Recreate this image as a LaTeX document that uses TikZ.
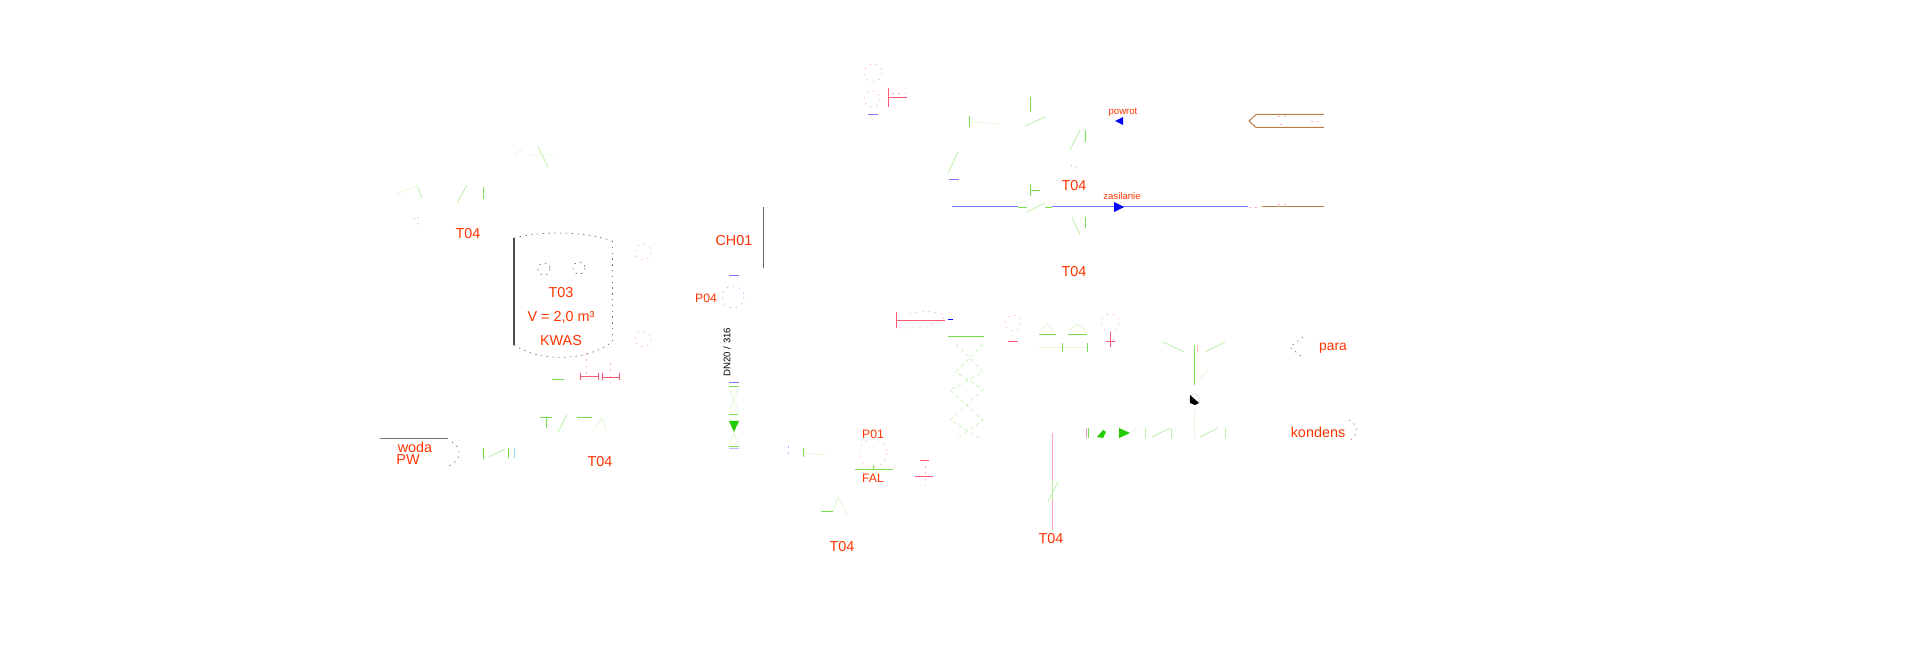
\documentclass[tikz,border=0pt]{standalone}
\usepackage{fontspec}
\setmainfont{Liberation Sans}
\definecolor{labelred}{HTML}{FF3300}
\definecolor{pipegreen}{HTML}{78E050}
\definecolor{paleblue}{HTML}{7878FF}
\definecolor{palered}{HTML}{FF5A78}
\definecolor{pipebrown}{HTML}{B88048}
\definecolor{solidgreen}{HTML}{22CC00}

\begin{document}
\begin{tikzpicture}[x=0.5pt, y=-0.5pt,
    label_text/.style={font=\fontsize{7.2}{8}\selectfont, text=labelred, inner sep=0pt, yshift=-0.7pt},
    small_text/.style={font=\fontsize{6.1}{7}\selectfont, text=labelred, inner sep=0pt, yshift=-0.5pt},
    tiny_text/.style={font=\fontsize{4.8}{6}\selectfont, text=labelred, inner sep=0pt},
    green_pipe/.style={pipegreen, line width=0.4pt},
    soft_pipe/.style={pipegreen!50, line width=0.4pt},
    faint_pipe/.style={pipegreen!22, line width=0.4pt},
    blue_pipe/.style={paleblue, line width=0.5pt},
    red_pipe/.style={palered, line width=0.45pt},
    brown_pipe/.style={pipebrown, line width=0.5pt},
    red_dots/.style={palered!50, line width=0.3pt, dash pattern=on 0.8pt off 2.4pt},
    blue_dots/.style={paleblue!60, line width=0.3pt, dash pattern=on 0.8pt off 2.4pt},
    black_dots/.style={black!55, line width=0.35pt, dash pattern=on 0.7pt off 2.2pt},
    zigzag_pipe/.style={pipegreen!35, line width=0.4pt, dash pattern=on 2pt off 1.5pt}
]
\useasboundingbox (0,0) rectangle (1916,646);

% Tank
\draw[black!70, line width=0.6pt] (514,238) -- (514,345);
\draw[black_dots] (514,238) .. controls (540,231) and (585,231) .. (612,241);
\draw[black_dots] (612,241) -- (612,342);
\draw[black_dots] (514,345) .. controls (540,362) and (585,362) .. (612,342);
\draw[black_dots] (544,269) circle (6);
\draw[black_dots] (579,268) circle (6);
\node[label_text] (tank) at (561,291) {T03};
\node[label_text] (volume) at (561,316) {V = 2,0 m³};
\node[label_text] (medium) at (561,339) {KWAS};

% Tank nozzles
\draw[red_dots] (643,252) circle (8);
\draw[red_dots] (643,339) circle (8);
\draw[red_pipe] (580,376) -- (598,376);
\draw[red_pipe] (602,377) -- (619,377);
\foreach \xa in {580,598,602,619}
    \draw[red_pipe, line width=0.3pt] (\xa,373) -- (\xa,380);
\draw[red_dots] (586,353) -- (586,383);
\draw[red_dots] (610,363) -- (610,383);
\draw[green_pipe] (552,379) -- (564,379);

% Top left valves
\draw[soft_pipe] (538,147) -- (548,167);
\draw[faint_pipe] (515,155) -- (523,148) (530,155) -- (556,155);
\draw[soft_pipe] (417,185) -- (422,198);
\draw[faint_pipe] (395,195) -- (415,186);
\draw[soft_pipe] (467,185) -- (457,203);
\draw[green_pipe] (483,187) -- (483,199);
\draw[blue_dots] (414,218) -- (418,224) -- (418,212);
\node[label_text] (t04a) at (468,232) {T04};

% Water feed
\draw[black!55, line width=0.5pt] (380,438) -- (448,438);
\draw[black_dots] (452,442) .. controls (462,448) and (462,460) .. (449,466);
\node[label_text] (water) at (415,446) {woda};
\node[label_text] (waterb) at (408,458) {PW};
\draw[green_pipe] (483,448) -- (483,459);
\draw[soft_pipe] (489,457) -- (505,449);
\draw[green_pipe] (508,448) -- (508,458);
\draw[cyan!45, line width=0.4pt] (514,448) -- (514,458);
\draw[green_pipe] (540,417) -- (552,417) (546,417) -- (546,428);
\draw[soft_pipe] (567,415) -- (558,432);
\draw[green_pipe] (577,417) -- (592,417);
\draw[faint_pipe] (593,431) -- (602,418) -- (607,432);
\node[label_text] (t04b) at (600,460) {T04};

% Column
\draw[black!60, line width=0.5pt] (763,207) -- (763,268);
\node[label_text] (column) at (734,239) {CH01};
\draw[blue_pipe] (729,276) -- (739,276);
\draw[blue_dots] (733,297) circle (11);
\node[small_text] (pump) at (706,297) {P04};
\node[tiny_text, text=black, rotate=90] (size) at (727,352) {DN20 / 316};
\draw[blue_pipe] (729,383) -- (739,383);
\draw[green_pipe] (729,386) -- (739,386);
\draw[faint_pipe] (730,390) -- (738,410) (738,390) -- (730,410);
\draw[green_pipe] (729,414) -- (738,414);
\fill[solidgreen] (729,421) -- (739,421) -- (734,432) -- cycle;
\draw[faint_pipe] (730,443) -- (734,433) -- (738,443);
\draw[green_pipe] (729,446) -- (739,446);
\draw[blue_pipe, paleblue!50] (729,448) -- (739,448);

% Pump P01
\draw[blue_dots] (788,446) -- (788,455);
\draw[green_pipe] (803,448) -- (803,457);
\draw[faint_pipe] (803,453) -- (825,455);
\draw[red_dots] (873,453) circle (14);
\node[small_text] (feedpump) at (873,433) {P01};
\draw[green_pipe] (855,469) -- (893,469) (873,465) -- (873,469);
\node[small_text] (alarm) at (873,477) {FAL};
\draw[red_pipe] (920,460) -- (929,460) (915,476) -- (933,476);
\draw[red_dots] (925,466) -- (925,486);
\draw[green_pipe] (821,511) -- (833,511);
\draw[faint_pipe] (833,511) -- (838,497) -- (847,515);
\node[label_text] (t04c) at (842,545) {T04};

% Top instruments
\draw[red_dots] (873,73) circle (9);
\draw[red_dots] (872,99) circle (8);
\draw[blue_pipe] (868,115) -- (878,115);
\draw[red_pipe] (888,88) -- (888,107) (888,97) -- (907,97);
\draw[red_dots] (892,93) -- (907,93);

% Return and supply lines
\draw[green_pipe] (969,116) -- (969,127);
\draw[faint_pipe] (972,122) -- (1000,124);
\draw[green_pipe] (1030,97) -- (1030,112);
\draw[soft_pipe] (1025,126) -- (1045,117);
\draw[soft_pipe] (1080,130) -- (1070,150);
\draw[green_pipe] (1085,130) -- (1085,142);
\draw[blue_dots] (1071,165) -- (1075,169) -- (1079,165);
\node[label_text] (t04d) at (1074,184) {T04};
\draw[soft_pipe] (958,152) -- (948,173);
\draw[blue_pipe] (949,180) -- (959,180);
\draw[green_pipe] (1030,184) -- (1030,196) (1030,190) -- (1040,190);

\coordinate (supplya) at (952,207);
\coordinate (supplyb) at (1018,207);
\coordinate (supplyc) at (1052,207);
\coordinate (supplyd) at (1248,207);
\draw[blue_pipe] (supplya) -- (supplyb);
\draw[blue_pipe] (supplyc) -- (supplyd);
\draw[green_pipe] (supplyb) -- (1027,207) (1045,207) -- (supplyc);
\draw[soft_pipe] (1027,212) -- (1045,203);
\fill[blue] (1114,202) -- (1124,207) -- (1114,212) -- cycle;
\fill[blue] (1123,117) -- (1115,121) -- (1123,125) -- cycle;
\node[tiny_text] (return) at (1123,112) {powrot};
\node[tiny_text] (supply) at (1122,196) {zasilanie};
\draw[green_pipe] (1085,217) -- (1085,228);
\draw[soft_pipe] (1072,217) -- (1080,235);
\node[label_text] (t04e) at (1074,270) {T04};

% Brown lines on the right
\draw[brown_pipe] (1324,114.5) -- (1256,114.5) -- (1249,121) -- (1256,127.5) -- (1324,127.5);
\draw[brown_pipe] (1262,207) -- (1324,207);
\draw[red_dots] (1278,116) -- (1288,116) (1280,124) -- (1286,124) (1311,121) -- (1322,121);
\draw[red_dots] (1249,207) -- (1260,207) (1278,204) -- (1290,204);

% Exchanger
\draw[red_pipe] (896,312) -- (896,328) (896,320) -- (945,320);
\draw[red_dots] (900,328) .. controls (925,328) and (940,325) .. (945,316) .. controls (935,310) and (915,310) .. (905,316);
\draw[blue, line width=0.5pt] (948,320) -- (953,320);
\draw[green_pipe] (948,336) -- (984,336);
\draw[zigzag_pipe] (956,344) -- (983,372) -- (950,390) -- (983,420) -- (956,440);
\draw[zigzag_pipe] (983,344) -- (956,372) -- (983,390) -- (950,420) -- (983,440);

% Steam side instruments
\draw[red_dots] (1013,323) circle (8);
\draw[red_pipe] (1008,341) -- (1018,341);
\draw[green_pipe] (1039,334) -- (1056,334) (1068,334) -- (1087,334);
\draw[faint_pipe] (1041,330) -- (1047,324) -- (1054,330) (1070,330) -- (1077,324) -- (1085,330);
\draw[faint_pipe] (1039,347) -- (1062,347) (1062,347) -- (1087,347);
\draw[green_pipe] (1062,343) -- (1062,352) (1087,343) -- (1087,352);
\draw[red_dots] (1110,323) circle (9);
\draw[red_pipe] (1106,341) -- (1115,341) (1110,332) -- (1110,347);
\draw[soft_pipe] (1163,342) -- (1184,352) (1225,342) -- (1205,352);
\draw[green_pipe] (1194,345) -- (1194,385);
\draw[red_pipe, palered!45] (1197,345) -- (1197,352);
\draw[faint_pipe] (1200,378) -- (1208,370);

% Trap
\node[circle, draw=black!20, line width=0.2pt, minimum size=5pt, inner sep=0pt] (trap) at (1194,399) {};
\fill[black] (1190,395) -- (1199,403) -- (1195,405) -- (1190,403) -- cycle;
\draw[faint_pipe] (1194,410) -- (1194,438);
\draw[soft_pipe] (1200,437) -- (1218,428);
\draw[soft_pipe] (1225,428) -- (1225,438);

% Condensate line
\draw[palered!60, line width=0.4pt] (1086,428) -- (1086,438);
\draw[green_pipe] (1088,428) -- (1088,438);
\fill[solidgreen] (1097,437) -- (1103,430) -- (1106,432) -- (1103,438) -- cycle;
\fill[solidgreen] (1119,428) -- (1130,433) -- (1119,438) -- cycle;
\draw[faint_pipe] (1130,433) -- (1137,428);
\draw[soft_pipe] (1145,428) -- (1145,438);
\draw[soft_pipe] (1152,437) -- (1170,428);
\draw[soft_pipe] (1171,428) -- (1171,438);
\draw[palered!55, line width=0.4pt] (1052,433) -- (1052,530);
\draw[soft_pipe] (1058,482) -- (1048,502);
\draw[soft_pipe] (1052,480) -- (1052,500);
\node[label_text] (t04f) at (1051,537) {T04};

% Steam and condensate ends
\draw[black_dots] (1303,337) -- (1290,347) -- (1303,358);
\node[label_text, font=\fontsize{6.9}{8}\selectfont, yshift=-0.5pt] (steam) at (1333,346) {para};
\draw[black_dots, black!45] (1349,420) arc (-70:70:11);
\node[label_text] (condensate) at (1318,431) {kondens};

\end{tikzpicture}
\end{document}
